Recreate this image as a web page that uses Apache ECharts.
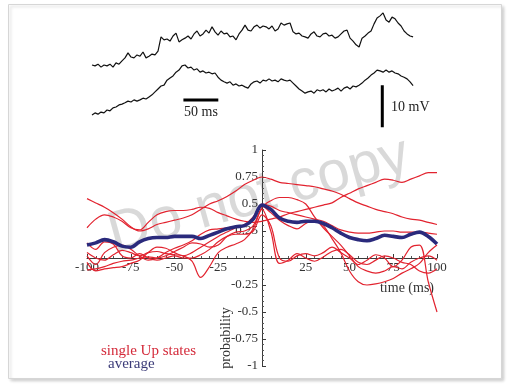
<!DOCTYPE html>
<html><head><meta charset="utf-8">
<script src="https://cdn.jsdelivr.net/npm/echarts@6/dist/echarts.min.js"></script>
<style>html,body{margin:0;padding:0;background:#fff}#c{width:512px;height:384px}</style>
</head><body><div id="c"></div>
<script>
// ---- data ----
const timeMs = [-100,-95,-90,-85,-80,-75,-70,-65,-60,-55,-50,-45,-40,-35,-30,-25,-20,-15,-10,-5,0,5,10,15,20,25,30,35,40,45,50,55,60,65,70,75,80,85,90,95,100];
const averageProb = [0.12,0.14,0.17,0.15,0.11,0.10,0.15,0.18,0.19,0.19,0.20,0.20,0.20,0.18,0.21,0.24,0.27,0.29,0.30,0.36,0.49,0.45,0.37,0.34,0.33,0.34,0.34,0.32,0.28,0.23,0.19,0.17,0.16,0.18,0.21,0.20,0.19,0.22,0.24,0.20,0.13];
const upState1 = [0.55,0.51,0.47,0.42,0.36,0.29,0.25,0.27,0.31,0.33,0.35,0.37,0.40,0.45,0.50,0.53,0.57,0.62,0.68,0.72,0.75,0.73,0.70,0.69,0.68,0.67,0.66,0.64,0.62,0.59,0.55,0.51,0.48,0.45,0.43,0.41,0.38,0.36,0.35,0.33,0.31];
const upState2 = [0.28,0.36,0.40,0.38,0.34,0.28,0.26,0.33,0.40,0.43,0.44,0.44,0.45,0.47,0.46,0.42,0.39,0.36,0.34,0.33,0.34,0.36,0.38,0.41,0.43,0.45,0.47,0.49,0.51,0.56,0.60,0.64,0.67,0.70,0.73,0.72,0.70,0.73,0.76,0.79,0.79];
const upState3 = [0.05,0.00,-0.02,0.03,0.07,0.05,0.02,0.05,0.06,0.04,0.03,0.02,-0.03,-0.18,-0.08,0.05,0.10,0.13,0.17,0.27,0.45,0.25,-0.05,-0.02,0.04,0.00,-0.03,0.01,0.06,0.08,0.03,-0.04,-0.06,-0.02,0.02,0.00,-0.04,-0.06,-0.12,-0.14,-0.10];
const upState4 = [0.14,0.08,0.15,0.13,0.02,0.00,0.04,0.00,-0.02,0.00,0.02,0.00,0.00,0.03,0.08,0.15,0.20,0.22,0.22,0.25,0.40,0.30,0.00,-0.03,0.02,0.04,0.02,0.05,0.10,0.05,0.00,-0.06,-0.02,0.03,0.00,-0.08,-0.02,0.10,0.12,-0.22,-0.50];
const upState5 = [-0.11,-0.10,-0.08,-0.05,-0.03,-0.02,0.00,0.01,0.00,0.02,0.06,0.10,0.14,0.13,0.10,0.12,0.20,0.24,0.25,0.30,0.47,0.53,0.56,0.56,0.54,0.50,0.38,0.28,0.20,0.12,0.02,-0.08,-0.12,-0.14,-0.12,-0.08,-0.10,-0.04,0.00,0.02,-0.02];
const upState6 = [0.02,-0.06,0.05,0.10,0.12,0.08,0.02,-0.02,0.00,0.05,0.09,0.12,0.16,0.22,0.26,0.27,0.28,0.29,0.30,0.36,0.48,0.42,0.35,0.30,0.27,0.32,0.35,0.30,0.18,0.05,-0.12,-0.22,-0.25,-0.24,-0.22,-0.19,-0.14,-0.10,-0.05,0.05,0.12];
const upState7 = [-0.04,-0.12,-0.10,-0.09,-0.08,-0.05,-0.02,0.05,0.10,0.09,0.05,0.02,0.05,0.10,0.15,0.20,0.24,0.28,0.31,0.38,0.50,0.48,0.44,0.42,0.40,0.38,0.36,0.34,0.30,0.26,0.24,0.23,0.23,0.24,0.25,0.25,0.24,0.24,0.24,0.23,0.22];
const singleUpStates = [upState1, upState2, upState3, upState4, upState5, upState6, upState7];

// membrane potential traces (mV), sampled every 4.3 ms
const traceSampleMs = 4.3;
const traceTopMv = [16.9,16.7,17.1,16.4,16.9,16.7,17.1,16.4,17.4,17.1,17.9,18.6,19.8,18.8,18.6,19.3,19.0,20.0,18.6,19.0,19.5,19.3,20.2,23.6,22.9,23.1,22.6,23.8,24.5,22.4,22.9,23.3,23.8,23.1,24.3,25.0,23.8,24.3,25.2,24.5,26.0,24.8,24.0,25.0,24.3,24.5,23.6,23.8,22.9,24.3,25.2,26.4,25.2,25.0,26.0,26.4,25.7,26.2,26.0,25.5,26.2,25.0,25.5,26.9,26.4,26.7,26.9,24.8,24.3,24.5,23.8,23.6,23.3,24.3,24.8,23.8,23.6,24.3,24.5,23.8,24.0,23.3,23.6,24.3,25.0,25.2,23.3,22.6,21.7,21.2,23.3,23.8,24.5,25.0,26.7,28.1,28.6,29.3,27.6,27.1,28.3,27.9,26.9,26.2,25.0,24.3,23.8,23.6];
const traceBottomMv = [5.0,5.5,5.2,5.7,5.5,6.2,6.0,6.7,6.9,7.4,7.6,7.9,8.3,8.1,8.6,8.3,8.6,9.0,8.8,9.3,9.8,10.5,11.2,11.9,12.1,13.3,13.8,14.3,15.2,15.7,16.7,16.9,16.2,16.4,15.7,16.0,15.2,15.5,15.0,15.2,14.8,15.0,14.0,13.3,12.9,12.6,12.9,12.1,12.4,11.9,12.1,11.7,11.4,12.4,12.9,13.1,12.6,13.3,13.1,13.6,13.1,13.3,12.9,13.6,13.3,13.1,13.3,12.6,11.9,11.2,10.7,10.2,10.5,10.7,10.2,11.0,10.7,11.0,10.5,11.2,10.7,11.0,11.4,10.7,11.4,11.7,11.2,11.9,11.7,12.1,12.6,13.3,13.8,14.5,15.0,15.7,15.5,15.2,15.7,15.2,15.5,15.0,14.8,14.3,14.0,13.6,12.9,12.0];
const timeBar = {startMs: 131, lengthMs: 50, atMv: 8.6, label: '50 ms'};
const voltBar = {atMs: 416, startMv: 2.1, lengthMv: 10, label: '10 mV'};

const xTickValues = [-100,-75,-50,-25,0,25,50,75,100];
const yTickValues = [-1,-0.75,-0.5,-0.25,0,0.25,0.5,0.75,1];

// ---- build ----
const SERIF = '"Liberation Serif", "DejaVu Serif", serif';
const RED = '#e2232f';
const NAVY = '#2a2a7c';
const pairs = (xs, ys) => ys.map((v, i) => [xs[i], v]);
const traceTimes = traceTopMv.map((_, i) => i * traceSampleMs);

const G = {left: 87, top: 150, width: 350, height: 216};

const series = [];
singleUpStates.forEach((ys) => {
  series.push({
    name: 'single Up states', type: 'line', xAxisIndex: 1, yAxisIndex: 1,
    data: pairs(timeMs, ys), smooth: 0.35, symbol: 'none',
    lineStyle: {color: RED, width: 1.2}, z: 3, silent: true
  });
});
series.push({
  name: 'average', type: 'line', xAxisIndex: 1, yAxisIndex: 1,
  data: pairs(timeMs, averageProb), smooth: 0.35, symbol: 'none',
  lineStyle: {color: NAVY, width: 3.6}, z: 4, silent: true
});
[traceTopMv, traceBottomMv].forEach(tr => {
  series.push({
    type: 'line', xAxisIndex: 0, yAxisIndex: 0,
    data: pairs(traceTimes, tr), symbol: 'none',
    lineStyle: {color: '#111', width: 1.2}, silent: true
  });
});
series.push({
  type: 'line', xAxisIndex: 0, yAxisIndex: 0, symbol: 'none', silent: true,
  data: [[timeBar.startMs, timeBar.atMv], [timeBar.startMs + timeBar.lengthMs, timeBar.atMv]],
  lineStyle: {color: '#000', width: 3}
});
series.push({
  type: 'line', xAxisIndex: 0, yAxisIndex: 0, symbol: 'none', silent: true,
  data: [[voltBar.atMs, voltBar.startMv], [voltBar.atMs, voltBar.startMv + voltBar.lengthMv]],
  lineStyle: {color: '#000', width: 3}
});

const fmt = v => (Math.abs(v) < 1e-9 ? '' : String(v));
const xMin = xTickValues[0], xMax = xTickValues[xTickValues.length-1];
const yMin = yTickValues[0], yMax = yTickValues[yTickValues.length-1];
// put the axes through the origin by offsetting them into the plot
const yAxisOffset = -G.width * (0 - xMin) / (xMax - xMin);
const xAxisOffset = -G.height * (0 - yMin) / (yMax - yMin);

const option = {
  animation: false,
  backgroundColor: '#fff',
  grid: [
    {left: 92, top: 10, width: 321, height: 126},
    G
  ],
  xAxis: [
    {gridIndex: 0, type: 'value', min: 0, max: 460, show: false},
    {gridIndex: 1, type: 'value', min: xMin, max: xMax, interval: 25, position: 'bottom', offset: xAxisOffset,
      axisLine: {onZero: false, lineStyle: {color: '#3a3a3a', width: 1}},
      axisTick: {show: true, inside: true, length: 4, lineStyle: {color: '#3a3a3a'}},
      minorTick: {show: true, splitNumber: 5, length: 2, lineStyle: {color: '#555'}},
      splitLine: {show: false},
      axisLabel: {formatter: fmt, fontFamily: SERIF, fontSize: 13, color: '#333', margin: 3}
    }
  ],
  yAxis: [
    {gridIndex: 0, type: 'value', min: 0, max: 30, show: false},
    {gridIndex: 1, type: 'value', min: yMin, max: yMax, interval: 0.25, position: 'left', offset: yAxisOffset,
      axisLine: {onZero: false, lineStyle: {color: '#3a3a3a', width: 1}},
      axisTick: {show: true, inside: true, length: 4, lineStyle: {color: '#3a3a3a'}},
      minorTick: {show: true, splitNumber: 5, length: 2, lineStyle: {color: '#555'}},
      splitLine: {show: false},
      axisLabel: {formatter: fmt, fontFamily: SERIF, fontSize: 13, color: '#333', margin: 4}
    }
  ],
  graphic: [
    {type: 'rect', z: -10, shape: {x: 8.5, y: 4.5, width: 493, height: 374},
      style: {fill: '#fff', stroke: '#d6d6d6', lineWidth: 1, shadowBlur: 3, shadowOffsetX: 2, shadowOffsetY: 2, shadowColor: 'rgba(0,0,0,0.18)'}},
    {type: 'text', z: -5, x: 259, y: 196, rotation: 0.27,
      style: {text: 'Do not copy', font: '58px "Liberation Sans Narrow", "Liberation Sans", Arial, sans-serif', fill: 'rgba(185,185,185,0.55)', textAlign: 'center', textVerticalAlign: 'middle'}},
    {type: 'text', x: 201, y: 112, style: {text: timeBar.label, font: '14px ' + SERIF, fill: '#222', textAlign: 'center', textVerticalAlign: 'middle'}},
    {type: 'text', x: 391, y: 107, style: {text: voltBar.label, font: '14px ' + SERIF, fill: '#222', textAlign: 'left', textVerticalAlign: 'middle'}},
    {type: 'text', x: 407, y: 288, style: {text: 'time (ms)', font: '14px ' + SERIF, fill: '#333', textAlign: 'center', textVerticalAlign: 'middle'}},
    {type: 'text', x: 226, y: 338, rotation: Math.PI / 2, style: {text: 'probability', font: '14px ' + SERIF, fill: '#333', textAlign: 'center', textVerticalAlign: 'middle'}},
    {type: 'text', x: 101, y: 351, style: {text: 'single Up states', font: '15px ' + SERIF, fill: '#d42a3a', textAlign: 'left', textVerticalAlign: 'middle'}},
    {type: 'text', x: 108, y: 364, style: {text: 'average', font: '15px ' + SERIF, fill: '#3b3b78', textAlign: 'left', textVerticalAlign: 'middle'}}
  ],
  series: series
};
const chart = echarts.init(document.getElementById('c'), null, {renderer: 'canvas'});
chart.setOption(option);
</script></body></html>
